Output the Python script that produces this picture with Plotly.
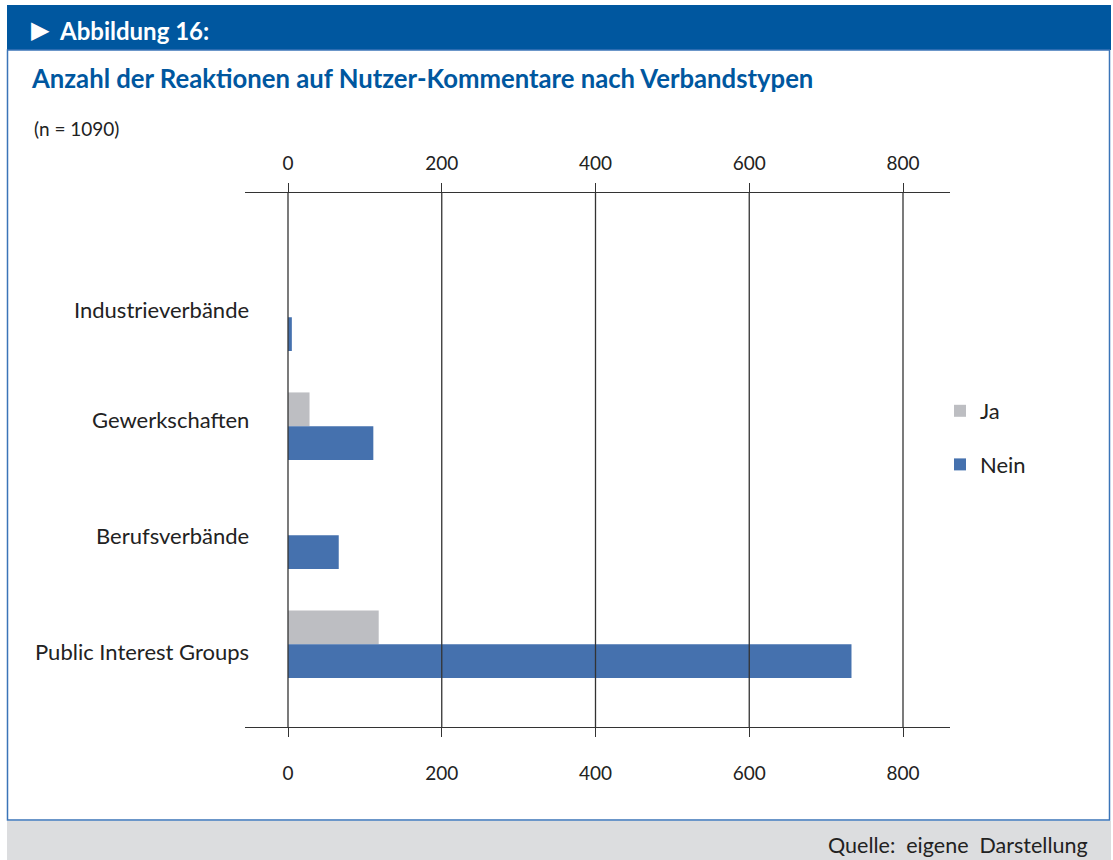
import plotly.graph_objects as go

categories = ["Industrieverbände", "Gewerkschaften", "Berufsverbände", "Public Interest Groups"]
ja_values = [0, 28, 0, 118]
nein_values = [5, 111, 66, 733]
tick_values = [0, 200, 400, 600, 800]
tick_labels = ["0", "200", "400", "600", "800"]

W, H = 1113, 860
PL, PR, PT, PB = 245, 950, 193, 727  # plot area in pixels
FONT = "Lato"
BLUE = "#00579F"
C_JA = "#BDBEC2"
C_NEIN = "#4571AE"
LABEL_YSHIFT = [8, 7, 0, -7]


def px(x):
    return (x - PL) / (PR - PL)


def py(y):
    return (PB - y) / (PB - PT)


fig = go.Figure()
fig.add_trace(go.Bar(y=categories, x=ja_values, orientation="h", name="Ja",
                     marker=dict(color=C_JA, line=dict(width=0)), legendgroup="ja"))
fig.add_trace(go.Bar(y=categories, x=nein_values, orientation="h", name="Nein",
                     marker=dict(color=C_NEIN, line=dict(width=0)), legendgroup="nein"))
# invisible trace to make the top axis exist
fig.add_trace(go.Scatter(x=[0], y=[categories[0]], xaxis="x2", mode="markers",
                         marker=dict(opacity=0), showlegend=False, hoverinfo="skip"))

xr = [(PL - 288) / 0.76875, (PR - 288) / 0.76875]

axis_common = dict(range=xr, tickvals=tick_values, ticktext=tick_labels,
                   showgrid=False, zeroline=False, showline=True, linecolor="#333333",
                   linewidth=1, ticks="outside", ticklen=9, tickcolor="#333333",
                   tickfont=dict(family=FONT, size=19, color="#222222"))

shapes = []
# header bar
shapes.append(dict(type="rect", xref="paper", yref="paper", x0=px(7), x1=px(1111),
                   y0=py(50), y1=py(5), fillcolor=BLUE, line=dict(width=0), layer="below"))
# frame
shapes.append(dict(type="rect", xref="paper", yref="paper", x0=px(7.5), x1=px(1109.5),
                   y0=py(820), y1=py(50), fillcolor="rgba(0,0,0,0)",
                   line=dict(width=1.5, color="#3B74B8"), layer="below"))
# footer
shapes.append(dict(type="rect", xref="paper", yref="paper", x0=px(7), x1=px(1111),
                   y0=py(861), y1=py(821), fillcolor="#DCDDDF", line=dict(width=0), layer="below"))
# vertical grid lines above bars, at the tick values
for v in tick_values:
    shapes.append(dict(type="line", xref="x", yref="paper", x0=v, x1=v, y0=0, y1=1,
                       line=dict(color="#333333", width=1.3), layer="above"))

annotations = [
    dict(text="\u25B6", xref="paper", yref="paper", x=px(29), y=py(30),
         xanchor="left", yanchor="middle", showarrow=False,
         font=dict(family="DejaVu Sans", size=24, color="white")),
    dict(text="Abbildung 16:", xref="paper", yref="paper", x=px(57), y=py(30),
         xanchor="left", yanchor="middle", showarrow=False,
         font=dict(family=FONT, size=24, color="white", weight="bold")),
    dict(text="<b>Anzahl der Reaktionen auf Nutzer-Kommentare nach Verbandstypen</b>",
         xref="paper", yref="paper", x=px(29), y=py(78),
         xanchor="left", yanchor="middle", showarrow=False,
         font=dict(family=FONT, size=25.7, color=BLUE)),
    dict(text="(n = 1090)", xref="paper", yref="paper", x=px(32), y=py(129),
         xanchor="left", yanchor="middle", showarrow=False,
         font=dict(family=FONT, size=19, color="#222222")),
    dict(text="Quelle:  eigene  Darstellung", xref="paper", yref="paper", x=px(1090), y=py(845),
         xanchor="right", yanchor="middle", showarrow=False,
         font=dict(family=FONT, size=21.5, color="#222222")),
]
for c, ys in zip(categories, LABEL_YSHIFT):
    annotations.append(dict(text=c, xref="paper", yref="y", x=0, y=c, xshift=6, yshift=ys,
                            xanchor="right", yanchor="middle", showarrow=False,
                            font=dict(family=FONT, size=22, color="#222222")))

fig.update_layout(
    width=W, height=H,
    margin=dict(l=PL, r=W - PR, t=PT, b=H - PB, pad=0),
    paper_bgcolor="white", plot_bgcolor="white",
    barmode="group", bargap=0.38, bargroupgap=0,
    xaxis=dict(side="bottom", ticklabelstandoff=20, **axis_common),
    xaxis2=dict(side="top", overlaying="x", anchor="y", ticklabelstandoff=5, **axis_common),
    yaxis=dict(range=[3.76, -1.14], showticklabels=False, showgrid=False, zeroline=False,
               showline=False, ticks=""),
    legend=dict(x=px(940), y=py(390), xanchor="left", yanchor="top",
                font=dict(family=FONT, size=22, color="#222222"),
                tracegroupgap=22, traceorder="grouped", bgcolor="rgba(0,0,0,0)",
                itemwidth=30),
    shapes=shapes, annotations=annotations,
    showlegend=True,
)

fig.write_html("out.html", config={"displayModeBar": False},
               post_script="document.body.style.margin='0';")
